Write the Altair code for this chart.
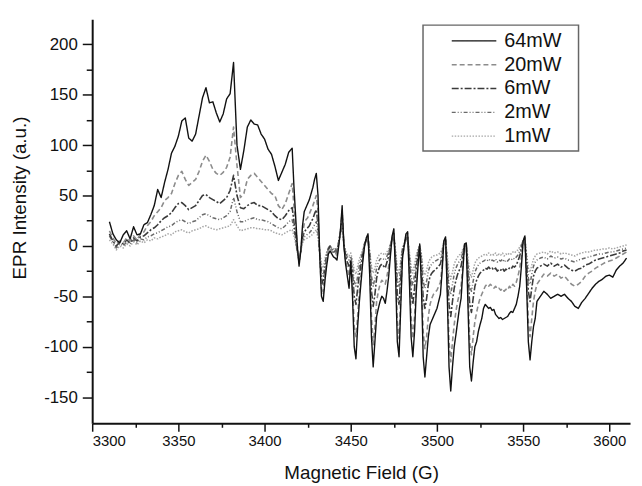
import altair as alt
import pandas as pd

# Sampling grid of the magnetic field (G)
field_a = list(range(3310, 3416, 2))   # 53 points
field_b = list(range(3416, 3559, 1))   # 143 points
field_c = list(range(3560, 3611, 2))   # 26 points
field = field_a + field_b + field_c

powers = ["64mW", "20mW", "6mW", "2mW", "1mW"]

p64 = [
    24, 12, 6, 3, 11, 15, 7, 19, 11, 12,
    21, 23, 31, 40, 56, 48, 63, 76, 92, 99,
    109, 124, 127, 107, 104, 111, 129, 147, 157, 142,
    143, 132, 123, 131, 146, 151, 182, 100, 76, 95,
    118, 125, 121, 120, 111, 106, 96, 91, 79, 65,
    73, 81, 93,
] + [
    97, 60, 30, 0, -20, -5, 20, 34, 38, 42,
    46, 52, 58, 66, 72, 50, -10, -50, -55, -35,
    -20, -8, -5, -8, -11, -12, -14, 0, 15, 40,
    0, -18, -30, -42, -15, -50, -100, -112, -80, -55,
    -35, -15, 0, 8, 12, -30, -90, -120, -95, -70,
    -62, -55, -50, -52, -57, -45, -30, -10, 10, 17,
    -30, -95, -110, -60, -12, 0, 12, 14, -35, -90,
    -110, -85, -45, -20, 2, -40, -110, -130, -110, -90,
    -78, -74, -70, -66, -62, -55, -48, -25, 5, 9,
    -50, -120, -144, -120, -100, -88, -75, -62, -52, -25,
    2, 3, -60, -120, -134, -115, -100, -95, -85, -78,
    -72, -62, -58, -60, -62, -61, -64, -63, -68, -70,
    -72, -71, -73, -72, -71, -70, -67, -65, -66, -62,
    -58, -50, -40, -20, 5, 10, -40, -95, -113, -95,
    -80, -72, -55,
] + [
    -50, -45, -48, -52, -50, -48, -50, -48, -52, -55,
    -60, -62, -56, -52, -47, -42, -38, -35, -33, -30,
    -29, -31, -24, -20, -17, -12,
]

p20 = [
    15, 8, 2, 5, 3, 8, 5, 10, 6, 12,
    14, 20, 24, 30, 34, 38, 45, 48, 52, 62,
    70, 74, 66, 60, 63, 66, 74, 84, 90, 84,
    76, 72, 70, 73, 78, 88, 118, 80, 48, 52,
    66, 70, 72, 68, 64, 60, 56, 52, 50, 40,
    36, 42, 52,
] + [
    62, 40, 20, 0, -17, -5, 12, 22, 26, 28,
    32, 36, 40, 45, 50, 35, -10, -42, -48, -30,
    -15, -5, -2, -5, -8, -6, -10, 2, 14, 35,
    0, -15, -22, -30, -18, -40, -80, -90, -70, -45,
    -28, -12, 0, 6, 10, -20, -70, -98, -80, -55,
    -45, -38, -34, -36, -38, -30, -20, -5, 8, 14,
    -20, -75, -92, -50, -10, 0, 10, 12, -25, -70,
    -92, -70, -38, -15, 0, -30, -85, -102, -90, -70,
    -58, -52, -48, -46, -44, -40, -36, -20, 4, 7,
    -40, -95, -115, -95, -78, -65, -55, -48, -40, -20,
    0, 2, -45, -95, -108, -90, -75, -66, -58, -52,
    -48, -44, -40, -38, -40, -38, -40, -42, -40, -43,
    -42, -44, -42, -45, -43, -44, -40, -42, -38, -40,
    -36, -30, -22, -10, 4, 8, -30, -75, -90, -72,
    -55, -45, -38,
] + [
    -33, -28, -30, -27, -30, -28, -32, -30, -34, -38,
    -40, -38, -35, -30, -27, -25, -22, -20, -18, -16,
    -15, -14, -12, -10, -8, -6,
]

p6 = [
    12, 5, 0, 4, 2, 6, 3, 8, 5, 9,
    10, 13, 16, 18, 21, 25, 28, 30, 33, 38,
    42, 43, 40, 36, 38, 40, 45, 50, 51, 48,
    46, 44, 42, 45, 48, 55, 70, 50, 38, 37,
    40, 42, 43, 40, 40, 38, 36, 34, 30, 27,
    26, 30, 35,
] + [
    38, 25, 10, -5, -15, -5, 8, 14, 16, 18,
    20, 24, 27, 32, 36, 22, -8, -32, -38, -25,
    -12, -4, 0, -4, -6, -5, -8, 4, 14, 30,
    2, -10, -16, -20, -14, -28, -50, -58, -42, -28,
    -18, -8, 2, 6, 9, -12, -45, -60, -48, -32,
    -24, -20, -18, -20, -22, -16, -10, 0, 8, 12,
    -12, -48, -58, -30, -5, 2, 8, 10, -15, -45,
    -58, -42, -22, -8, 0, -18, -52, -62, -52, -38,
    -30, -27, -25, -24, -22, -20, -18, -10, 4, 6,
    -25, -58, -70, -55, -42, -34, -28, -24, -20, -10,
    0, 2, -28, -58, -66, -52, -40, -34, -30, -27,
    -25, -24, -22, -23, -21, -23, -22, -24, -22, -25,
    -23, -24, -22, -25, -23, -24, -22, -23, -20, -21,
    -19, -15, -10, -3, 5, 8, -18, -45, -55, -42,
    -30, -25, -22,
] + [
    -20, -18, -20, -17, -20, -18, -21, -19, -22, -24,
    -25, -23, -22, -19, -18, -16, -14, -13, -12, -11,
    -10, -9, -8, -7, -5, -4,
]

p2 = [
    10, 4, -2, 2, 0, 4, 2, 6, 3, 7,
    6, 9, 10, 12, 13, 15, 17, 19, 20, 23,
    25, 26, 24, 22, 24, 25, 28, 31, 32, 30,
    28, 27, 26, 28, 30, 34, 48, 34, 24, 24,
    26, 27, 28, 26, 26, 25, 24, 22, 20, 18,
    17, 20, 24,
] + [
    26, 17, 6, -6, -14, -5, 5, 9, 10, 12,
    13, 15, 18, 21, 24, 14, -6, -24, -30, -18,
    -8, -2, 0, -3, -4, -3, -6, 4, 12, 26,
    2, -7, -11, -14, -10, -20, -35, -40, -30, -19,
    -12, -5, 2, 5, 8, -8, -30, -40, -32, -22,
    -16, -13, -12, -13, -14, -10, -6, 1, 7, 10,
    -8, -32, -40, -20, -3, 2, 6, 8, -10, -30,
    -40, -28, -14, -5, 0, -12, -35, -42, -35, -25,
    -20, -18, -16, -15, -14, -13, -12, -6, 4, 6,
    -16, -40, -48, -38, -28, -22, -18, -15, -13, -6,
    1, 2, -18, -40, -45, -35, -26, -22, -19, -17,
    -16, -15, -14, -15, -13, -15, -14, -15, -13, -16,
    -14, -15, -13, -16, -14, -15, -13, -14, -12, -13,
    -11, -9, -5, 0, 5, 7, -12, -32, -38, -28,
    -20, -16, -14,
] + [
    -12, -11, -13, -10, -12, -11, -13, -12, -14, -15,
    -16, -14, -13, -12, -11, -10, -9, -8, -8, -7,
    -6, -6, -5, -4, -3, -2,
]

p1 = [
    6, 2, -4, 0, -2, 2, 0, 4, 1, 5,
    3, 6, 5, 8, 7, 9, 10, 12, 11, 14,
    15, 16, 14, 13, 15, 16, 17, 19, 20, 18,
    17, 16, 17, 18, 19, 20, 26, 20, 15, 16,
    17, 18, 18, 17, 17, 16, 16, 15, 13, 12,
    11, 13, 15,
] + [
    16, 10, 3, -6, -12, -5, 3, 6, 7, 8,
    9, 10, 12, 14, 16, 8, -5, -18, -22, -13,
    -6, -2, 0, -2, -3, -2, -4, 3, 10, 22,
    2, -5, -8, -10, -7, -14, -24, -28, -20, -13,
    -8, -3, 2, 4, 7, -5, -20, -27, -22, -14,
    -10, -8, -7, -8, -9, -6, -3, 2, 6, 8,
    -5, -22, -28, -13, -2, 2, 5, 6, -6, -20,
    -27, -18, -9, -3, 0, -8, -24, -29, -24, -17,
    -13, -11, -10, -9, -9, -8, -7, -3, 4, 5,
    -10, -27, -33, -26, -18, -14, -11, -9, -8, -3,
    1, 2, -12, -27, -31, -24, -17, -14, -12, -11,
    -10, -9, -8, -9, -7, -9, -8, -9, -7, -10,
    -8, -9, -7, -10, -8, -9, -7, -8, -6, -7,
    -5, -4, -1, 2, 5, 6, -8, -22, -26, -19,
    -13, -10, -8,
] + [
    -7, -6, -8, -5, -7, -6, -8, -7, -8, -9,
    -10, -8, -7, -6, -6, -5, -4, -4, -3, -3,
    -2, -3, -2, -1, 0, 1,
]

series = {"64mW": p64, "20mW": p20, "6mW": p6, "2mW": p2, "1mW": p1}
for k, v in series.items():
    assert len(v) == len(field), (k, len(v), len(field))

rows = []
for name, vals in series.items():
    for f, v in zip(field, vals):
        rows.append({"field": f, "intensity": v, "power": name})
df = pd.DataFrame(rows)

colors = ["#111111", "#8c8c8c", "#3a3a3a", "#6a6a6a", "#a6a6a6"]
dashes = [[1, 0], [5, 3], [7, 2, 2, 2], [4, 2, 1, 2, 1, 2], [1.5, 1.5]]
widths = {"64mW": 1.4, "20mW": 1.6, "6mW": 1.6, "2mW": 1.5, "1mW": 1.5}

FONT = "Liberation Sans"

x_enc = alt.X(
    "field:Q",
    scale=alt.Scale(domain=[3300, 3612], nice=False, zero=False),
    axis=alt.Axis(
        title="Magnetic Field (G)",
        values=list(range(3300, 3601, 25)),
        labelExpr="datum.value % 50 === 0 ? toString(datum.value) : ''",
        tickSize={"condition": {"test": "datum.value % 50 === 0", "value": 8}, "value": 4},
        labelFontSize=15,
        labelPadding=2,
        titleFontSize=19,
        titleFontWeight="normal",
        titleBaseline="alphabetic",
        titleY=56,
        grid=False,
    ),
)
y_enc = alt.Y(
    "intensity:Q",
    scale=alt.Scale(domain=[-176, 225], nice=False, zero=False),
    axis=alt.Axis(
        title="EPR Intensity (a.u.)",
        values=list(range(-150, 201, 25)),
        labelExpr="datum.value % 50 === 0 ? toString(datum.value) : ''",
        tickSize={"condition": {"test": "datum.value % 50 === 0", "value": 10}, "value": 6},
        labelFontSize=17,
        labelPadding=5,
        titleFontSize=19,
        titleFontWeight="normal",
        titleX=-73,
        titleY=180,
        titleAlign="center",
        titleBaseline="middle",
        titleAngle=-90,
        grid=False,
    ),
)


def make_legend():
    return alt.Legend(
        title=None,
        orient="none",
        legendX=338,
        legendY=6,
        symbolType="stroke",
        symbolSize=2025,
        symbolStrokeWidth=1.3,
        symbolOffset=20,
        labelOffset=7,
        labelFontSize=20,
        labelFont=FONT,
        labelColor="#111111",
        clipHeight=24,
        rowPadding=0,
        padding=4,
    )


color_enc = alt.Color(
    "power:N",
    scale=alt.Scale(domain=powers, range=colors),
    sort=powers,
    legend=make_legend(),
)
dash_enc = alt.StrokeDash(
    "power:N",
    scale=alt.Scale(domain=powers, range=dashes),
    sort=powers,
    legend=make_legend(),
)

layers = []
for name in ["1mW", "2mW", "6mW", "20mW", "64mW"]:
    layers.append(
        alt.Chart(df)
        .transform_filter(alt.datum.power == name)
        .mark_line(strokeWidth=widths[name], strokeJoin="round")
        .encode(x=x_enc, y=y_enc, color=color_enc, strokeDash=dash_enc)
    )

# frame of the legend box
legend_frame = (
    alt.Chart(pd.DataFrame({"box": [0]}))
    .mark_rect(fill="#ffffff", stroke="#666666", strokeWidth=1.5)
    .encode(
        x=alt.value(334), x2=alt.value(491),
        y=alt.value(6), y2=alt.value(133),
    )
)
layers.append(legend_frame)

chart = (
    alt.layer(*layers)
    .properties(
        width=543,
        height=408,
        autosize=alt.AutoSizeParams(type="none"),
        padding={"left": 85, "top": 9, "right": 4, "bottom": 60},
    )
    .configure_view(stroke=None)
    .configure_axis(
        labelFont=FONT,
        titleFont=FONT,
        labelColor="#111111",
        titleColor="#111111",
        domainColor="#111111",
        tickColor="#111111",
        domainWidth=2,
        tickWidth=1.5,
    )
)

chart.save("out.html", embed_options={"renderer": "svg", "actions": False})
